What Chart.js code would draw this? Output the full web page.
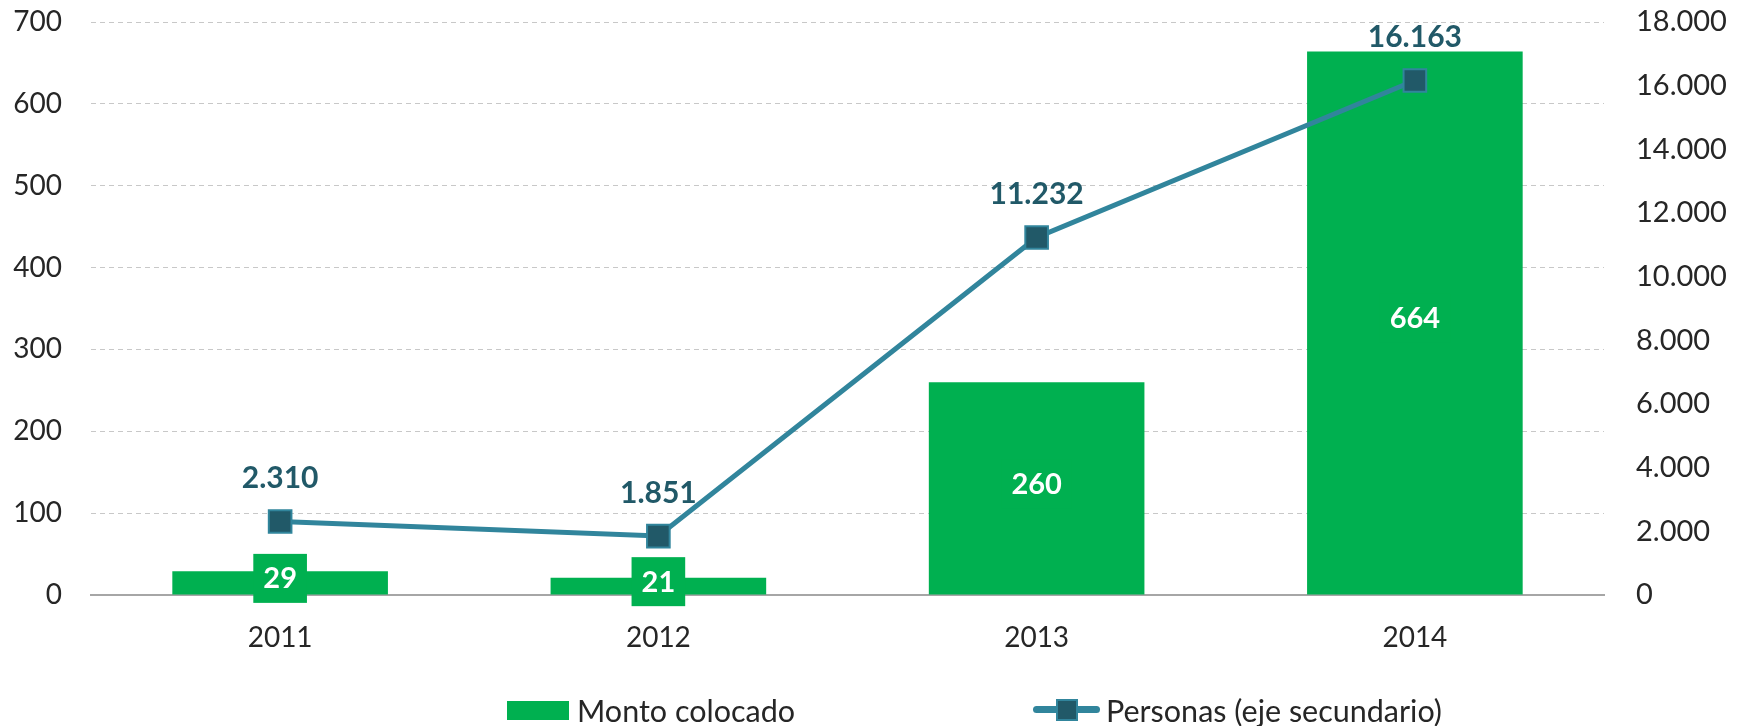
<!DOCTYPE html>
<html>
<head>
<meta charset="utf-8">
<script src="https://cdn.jsdelivr.net/npm/chart.js@4.4.1/dist/chart.umd.min.js"></script>
<style>
  body { margin: 0; background: #fff; }
  #wrap { position: relative; width: 1744px; height: 726px; }
  #legend { position: absolute; left: 0; top: 693px; width: 1744px; height: 34px;
            font-family: Lato, sans-serif; font-size: 30.5px; color: #262626; }
  .item { position: absolute; top: 0; height: 34px; display: flex; align-items: center; white-space: nowrap; }
  .box { width: 62px; height: 19px; background: #00B050; margin-right: 8px; }
  .lineSym { position: relative; width: 67px; height: 22px; margin-right: 6px; }
  .lineSym .bar { position: absolute; left: 0; right: 0; top: 7px; height: 7px; border-radius: 4px; background: #31859C; }
  .lineSym .sq { position: absolute; left: 23px; top: 0; width: 18px; height: 18px; background: #215968; border: 2px solid #31859C; }
</style>
</head>
<body>
<div id="wrap">
  <canvas id="comboChart"></canvas>
  <div id="legend"></div>
</div>
<script>
// ===== Data =====
const years = ['2011', '2012', '2013', '2014'];
const montoColocado = [29, 21, 260, 664];
const personas = [2310, 1851, 11232, 16163];

const GREEN = '#00B050';
const TEAL = '#31859C';
const DARK_TEAL = '#215968';
const TEXT = '#262626';

Chart.defaults.font.family = 'Lato, sans-serif';
Chart.defaults.color = TEXT;

// 18000 -> "18.000"
const fmt = v => String(v).replace(/\B(?=(\d{3})+(?!\d))/g, '.');

// data labels drawn on top of the datasets
const valueLabels = {
  id: 'valueLabels',
  afterDatasetsDraw(chart) {
    const ctx = chart.ctx;
    ctx.save();
    ctx.textAlign = 'center';
    ctx.textBaseline = 'middle';

    ctx.font = 'bold 29px Lato, sans-serif';
    chart.getDatasetMeta(0).data.forEach((bar, i) => {
      const txt = fmt(montoColocado[i]);
      const cy = (bar.y + bar.base) / 2 - 5;
      const w = ctx.measureText(txt).width + 20;
      ctx.fillStyle = GREEN;
      ctx.fillRect(bar.x - w / 2, cy - 24, w, 49);
      ctx.fillStyle = '#fff';
      ctx.fillText(txt, bar.x, cy + 1);
    });

    ctx.font = 'bold 30px Lato, sans-serif';
    chart.getDatasetMeta(1).data.forEach((pt, i) => {
      ctx.fillStyle = DARK_TEAL;
      ctx.fillText(fmt(personas[i]), pt.x, pt.y - 43);
    });
    ctx.restore();
  }
};

// keep the plot box exact: no extra room for half tick labels
const noPad = s => { s.paddingTop = 0; s.paddingBottom = 0; };

const ctx1 = document.getElementById('comboChart').getContext('2d');
const comboChart = new Chart(ctx1, {
  type: 'bar',
  data: {
    labels: years,
    datasets: [{
      label: 'Monto colocado',
      data: montoColocado,
      backgroundColor: GREEN,
      categoryPercentage: 1,
      barPercentage: 0.57,
      yAxisID: 'y',
      order: 2
    }, {
      type: 'line',
      label: 'Personas (eje secundario)',
      data: personas,
      borderColor: TEAL,
      borderWidth: 5,
      tension: 0,
      pointStyle: 'rect',
      pointRadius: 16,
      pointHoverRadius: 16,
      pointBackgroundColor: DARK_TEAL,
      pointBorderColor: TEAL,
      pointBorderWidth: 2,
      yAxisID: 'y1',
      order: 1
    }]
  },
  options: {
    responsive: true,
    maintainAspectRatio: false,
    animation: false,
    layout: { padding: { top: 22, bottom: 51, left: 0, right: 0 } },
    plugins: { legend: { display: false }, tooltip: { enabled: false } },
    scales: {
      x: {
        grid: { display: false, drawTicks: false },
        border: { display: true, color: '#A6A6A6', width: 2 },
        ticks: { color: TEXT, font: { size: 28 }, padding: 26 },
        afterFit: s => { s.height = 80; s.paddingLeft = 0; s.paddingRight = 0; }
      },
      y: {
        position: 'left',
        min: 0, max: 700,
        ticks: { stepSize: 100, color: TEXT, font: { size: 28 }, padding: 29 },
        grid: {
          drawTicks: false,
          lineWidth: 1,
          color: c => c.tick && c.tick.value === 0 ? 'rgba(0,0,0,0)' : '#C8C8C8'
        },
        border: { display: false, dash: [5, 4] },
        afterFit: s => { s.width = 91; noPad(s); }
      },
      y1: {
        position: 'right',
        min: 0, max: 18000,
        ticks: { stepSize: 2000, color: TEXT, font: { size: 29 }, padding: 32, callback: v => fmt(v) },
        grid: { display: false, drawTicks: false },
        border: { display: false },
        afterFit: s => { s.width = 140; noPad(s); }
      }
    }
  },
  plugins: [valueLabels]
});

// ===== Legend (HTML, from dataset labels) =====
const legendEl = document.getElementById('legend');
const legendLeft = [507, 1033];
comboChart.data.datasets.forEach((ds, i) => {
  const item = document.createElement('div');
  item.className = 'item';
  item.style.left = legendLeft[i] + 'px';
  const sym = document.createElement('span');
  if (ds.type === 'line') {
    sym.className = 'lineSym';
    sym.innerHTML = '<span class="bar"></span><span class="sq"></span>';
  } else {
    sym.className = 'box';
  }
  item.appendChild(sym);
  item.appendChild(document.createTextNode(ds.label));
  legendEl.appendChild(item);
});
</script>
</body>
</html>
